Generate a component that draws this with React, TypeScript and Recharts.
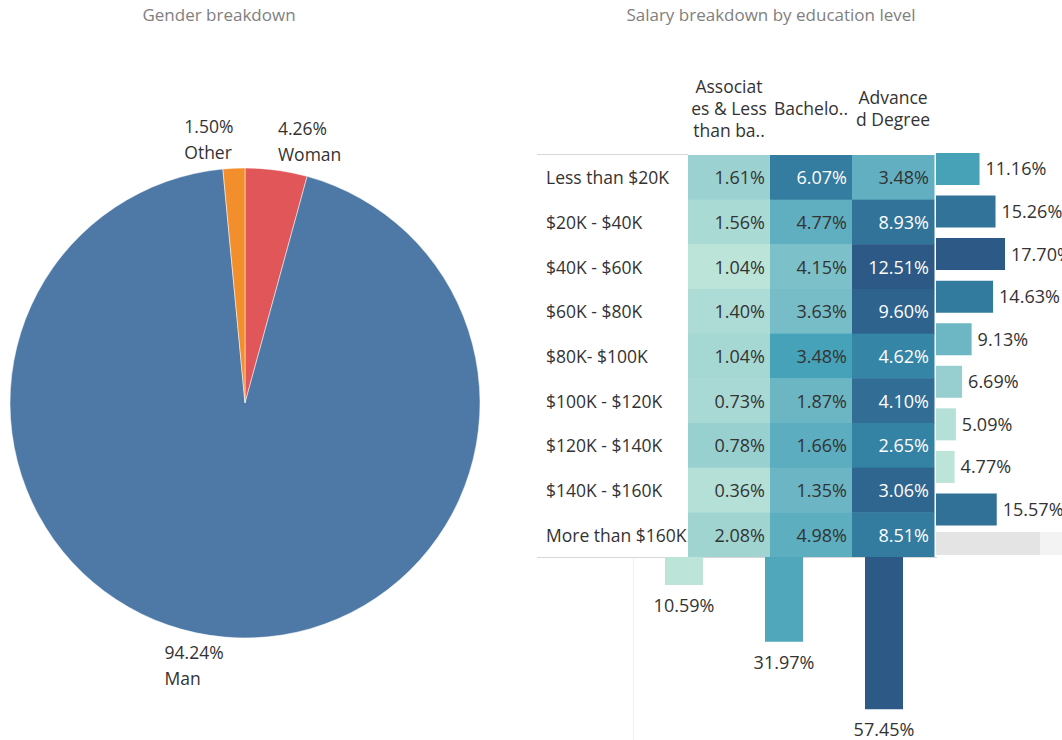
import { Bar, BarChart, Cell, LabelList, Pie, PieChart, Scatter, ScatterChart, XAxis, YAxis } from 'recharts'

// gender pie
const genderNames = ['Woman', 'Man', 'Other']
const genderValues = [4.26, 94.24, 1.5]

// salary x education heatmap
const salaryBands = [
  'Less than $20K',
  '$20K - $40K',
  '$40K - $60K',
  '$60K - $80K',
  '$80K- $100K',
  '$100K - $120K',
  '$120K - $140K',
  '$140K - $160K',
  'More than $160K',
]
const educationLevels = ['Associates & Less than bachelor', "Bachelor's", 'Advanced Degree']
const educationHeaders = [['Associat', 'es & Less', 'than ba..'], ['Bachelo..'], ['Advance', 'd Degree']]
const associatesValues = [1.61, 1.56, 1.04, 1.4, 1.04, 0.73, 0.78, 0.36, 2.08]
const bachelorValues = [6.07, 4.77, 4.15, 3.63, 3.48, 1.87, 1.66, 1.35, 4.98]
const advancedValues = [3.48, 8.93, 12.51, 9.6, 4.62, 4.1, 2.65, 3.06, 8.51]
const salaryTotals = [11.16, 15.26, 17.7, 14.63, 9.13, 6.69, 5.09, 4.77, 15.57]
const educationTotals = [10.59, 31.97, 57.45]

const genderColors = ['#e15759', '#4e79a7', '#f28e2b']
const blueTeal = [
  '#bce4d8', '#aedcd5', '#a1d5d2', '#95cecf', '#89c8cc', '#7ec1ca', '#72bac6', '#66b2c2', '#59acbe', '#4ba5ba',
  '#419eb6', '#3b96b2', '#358ead', '#3586a7', '#347ea1', '#32779b', '#316f96', '#2f6790', '#2d608a', '#2c5985',
]
const FONT = '"Open Sans", "Noto Sans", sans-serif'
const TEXT = '#333333'
const FS = 18

const hexToRgb = (h: string) => [1, 3, 5].map((i) => parseInt(h.slice(i, i + 2), 16))
const shade = (t: number) => {
  const c = Math.max(0, Math.min(1, t)) * (blueTeal.length - 1)
  const i = Math.min(Math.floor(c), blueTeal.length - 2)
  const f = c - i
  const a = hexToRgb(blueTeal[i])
  const b = hexToRgb(blueTeal[i + 1])
  const m = a.map((v, k) => Math.round(v + (b[k] - v) * f))
  return `rgb(${m[0]},${m[1]},${m[2]})`
}
const scaleOf = (vals: number[]) => {
  const lo = Math.min(...vals)
  const hi = Math.max(...vals)
  return (v: number) => shade((v - lo) / (hi - lo))
}

const genderData = genderNames.map((name, i) => ({ name, value: genderValues[i] }))

const byEducation = [associatesValues, bachelorValues, advancedValues]
const heatData = salaryBands.flatMap((salary, r) =>
  educationLevels.map((edu, c) => ({
    salary,
    edu,
    value: byEducation[c][r],
    share: byEducation[c][r] / salaryTotals[r],
  }))
)
const shareColor = scaleOf(heatData.map((d) => d.share))

const rowData = salaryBands.map((salary, i) => ({ salary, total: salaryTotals[i] }))
const rowColor = scaleOf(salaryTotals)
const colData = educationLevels.map((edu, i) => ({ edu, total: educationTotals[i] }))
const colColor = scaleOf(educationTotals)

const CELL_W = 82
const CELL_H = 402 / 9

const pct = (v: any) => `${Number(v).toFixed(2)}%`

let measureCtx: CanvasRenderingContext2D | null = null
const textWidth = (s: string, size: number) => {
  if (!measureCtx) measureCtx = document.createElement('canvas').getContext('2d')
  if (!measureCtx) return s.length * size * 0.58
  measureCtx.font = `${size}px "Open Sans"`
  return measureCtx.measureText(s).width
}

const HeatCell = (props: any) => {
  const { cx, cy, payload } = props
  return (
    <g>
      <rect
        x={cx - CELL_W / 2}
        y={cy - CELL_H / 2}
        width={CELL_W + 0.5}
        height={CELL_H + 0.5}
        fill={shareColor(payload.share)}
      />
      <text
        x={cx + CELL_W / 2 - 5}
        y={cy}
        textAnchor="end"
        dominantBaseline="central"
        fontSize={FS}
        fontFamily={FONT}
        fill={payload.share > 0.45 ? '#ffffff' : TEXT}
      >
        {pct(payload.value)}
      </text>
    </g>
  )
}

const EduTick = (props: any) => {
  const { x, payload } = props
  const lines = educationHeaders[educationLevels.indexOf(payload.value)] || []
  return (
    <g>
      {lines.map((l, i) => (
        <text
          key={i}
          x={x}
          y={48 + (i - (lines.length - 1) / 2) * 22}
          textAnchor="middle"
          dominantBaseline="central"
          fontSize={FS - 0.5}
          fontFamily={FONT}
          fill={TEXT}
        >
          {l}
        </text>
      ))}
    </g>
  )
}

const SalaryTick = (props: any) => (
  <text x={9} y={props.y} dominantBaseline="central" fontSize={FS - 0.5} fontFamily={FONT} fill={TEXT}>
    {props.payload.value}
  </text>
)

const BottomLabel = (props: any) => {
  const { x, y, width, height, value } = props
  const bottom = Math.max(y, y + height)
  return (
    <text x={x + width / 2} y={bottom + 20} textAnchor="middle" dominantBaseline="central" fontSize={FS} fontFamily={FONT} fill={TEXT}>
      {pct(value)}
    </text>
  )
}

const renderGenderLabel = (props: any) => {
  const { cx, cy, midAngle, outerRadius, name, value } = props
  const RAD = Math.PI / 180
  const fs = FS - 0.5
  const r = outerRadius + 12
  const px = cx + r * Math.cos(-midAngle * RAD)
  const py = cy + r * Math.sin(-midAngle * RAD)
  // left-aligned block; on the left side its right edge sits at the anchor point
  const blockW = Math.max(textWidth(pct(value), fs), textWidth(String(name), fs))
  const x = px < cx ? px - blockW : px
  const y1 = py < cy ? py - 30 : py + 3
  return (
    <g>
      <text x={x} y={y1} textAnchor="start" dominantBaseline="central" fontSize={fs} fontFamily={FONT} fill={TEXT}>
        {pct(value)}
      </text>
      <text x={x} y={y1 + 26} textAnchor="start" dominantBaseline="central" fontSize={fs} fontFamily={FONT} fill={TEXT}>
        {name}
      </text>
    </g>
  )
}

const abs = (left: number, top: number): React.CSSProperties => ({ position: 'absolute', left, top })
const titleStyle: React.CSSProperties = {
  position: 'absolute',
  top: 3,
  fontSize: 17,
  color: '#808080',
  fontFamily: FONT,
  textAlign: 'center',
  whiteSpace: 'nowrap',
}

export default function App() {
  return (
    <div style={{ position: 'absolute', left: 0, top: 0, width: 1062, height: 740, background: '#fff', overflow: 'hidden' }}>
      <div style={{ ...titleStyle, left: 69, width: 300 }}>Gender breakdown</div>
      <div style={{ ...titleStyle, left: 571, width: 400 }}>Salary breakdown by education level</div>

      <div style={abs(0, 0)}>
        <PieChart width={490} height={740} margin={{ top: 0, right: 0, bottom: 0, left: 0 }}>
          <Pie
            data={genderData}
            dataKey="value"
            nameKey="name"
            cx={245}
            cy={403}
            outerRadius={235}
            startAngle={90}
            endAngle={-270}
            stroke="#ffffff"
            strokeWidth={0.5}
            labelLine={false}
            label={renderGenderLabel}
            isAnimationActive={false}
          >
            {genderData.map((d, i) => (
              <Cell key={d.name} fill={genderColors[i]} />
            ))}
          </Pie>
        </PieChart>
      </div>

      {/* separators */}
      <div style={{ ...abs(537, 154), width: 151, height: 1, background: '#d6d6d6' }} />
      <div style={{ ...abs(537, 557), width: 400, height: 1, background: '#d6d6d6' }} />
      <div style={{ ...abs(633, 558), width: 1, height: 182, background: '#efefef' }} />

      <div style={abs(537, 60)}>
        <ScatterChart width={400} height={497} margin={{ top: 0, right: 3, bottom: 0, left: 0 }}>
          <XAxis
            dataKey="edu"
            type="category"
            allowDuplicatedCategory={false}
            orientation="top"
            height={95}
            tick={EduTick}
            tickLine={false}
            axisLine={false}
            interval={0}
          />
          <YAxis
            dataKey="salary"
            type="category"
            allowDuplicatedCategory={false}
            width={151}
            reversed
            tick={SalaryTick}
            tickLine={false}
            axisLine={false}
            interval={0}
          />
          <Scatter data={heatData} shape={HeatCell} isAnimationActive={false} />
        </ScatterChart>
      </div>

      {/* row totals */}
      <div style={abs(936, 148)}>
        <BarChart layout="vertical" width={126} height={383} data={rowData} margin={{ top: 0, right: 0, bottom: 0, left: 0 }}>
          <XAxis type="number" domain={[0, 32.3]} hide />
          <YAxis type="category" dataKey="salary" hide />
          <Bar dataKey="total" barSize={32} isAnimationActive={false}>
            {rowData.map((d) => (
              <Cell key={d.salary} fill={rowColor(d.total)} />
            ))}
            <LabelList dataKey="total" position="right" offset={6} formatter={pct} fill={TEXT} fontSize={FS} fontFamily={FONT} />
          </Bar>
        </BarChart>
      </div>
      <div style={{ ...abs(936, 532), width: 104, height: 23, background: '#e4e4e4' }} />
      <div style={{ ...abs(1040, 532), width: 22, height: 23, background: '#f3f3f3' }} />

      {/* column totals */}
      <div style={abs(634, 557)}>
        <BarChart width={300} height={183} data={colData} margin={{ top: 0, right: 0, bottom: 0, left: 0 }}>
          <XAxis dataKey="edu" type="category" hide />
          <YAxis type="number" domain={[0, 69]} reversed hide />
          <Bar dataKey="total" barSize={38} isAnimationActive={false}>
            {colData.map((d) => (
              <Cell key={d.edu} fill={colColor(d.total)} />
            ))}
            <LabelList dataKey="total" content={BottomLabel} />
          </Bar>
        </BarChart>
      </div>
    </div>
  )
}
